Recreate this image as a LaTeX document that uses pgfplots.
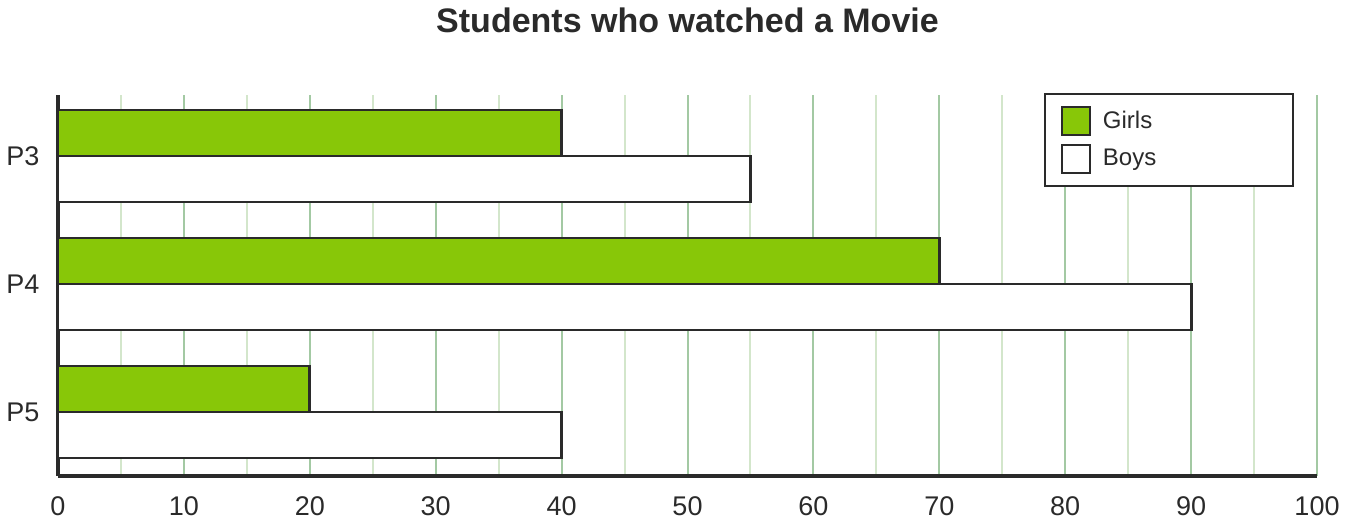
\documentclass[border=0pt]{standalone}
\usepackage{pgfplots}
\pgfplotsset{compat=1.18}
\usepackage{fontspec}
\setmainfont{Liberation Sans}

\definecolor{girls}{HTML}{88C708}
\definecolor{edge}{HTML}{2A2A2A}
\definecolor{majgrid}{HTML}{A3C9A3}
\definecolor{mingrid}{HTML}{D3E6CB}

\begin{document}
\begin{tikzpicture}
  % 1 px of the reference = 0.5pt
  \useasboundingbox (-29pt,-24.5pt) rectangle (645.5pt,238pt);
  \begin{axis}[
      at={(0,0)}, anchor=south west,
      scale only axis,
      width=629.5pt, height=190.5pt,
      xbar=0pt,
      bar width=23pt,
      y dir=reverse,
      xmin=0, xmax=100,
      ymin=-0.477, ymax=2.5,
      xtick={0,10,...,100},
      minor xtick={5,15,...,95},
      ytick={0,1,2},
      yticklabels={P3,P4,P5},
      tick style={draw=none},
      /pgf/number format/assume math mode=true,
      xticklabel style={font=\fontsize{13.5}{15}\selectfont, color=edge, yshift=-7pt},
      yticklabel style={font=\fontsize{13.5}{15}\selectfont, color=edge, xshift=-1.5pt},
      xmajorgrids, xminorgrids,
      major grid style={draw=majgrid, line width=1pt},
      minor grid style={draw=mingrid, line width=1pt},
      axis x line*=bottom, axis y line*=left,
      axis line style={draw=edge, line width=1.6pt, -},
      title={\bfseries Students who watched a Movie},
      title style={font=\fontsize{17}{20}\selectfont, color=edge, at={(0.5,1)}, yshift=21.5pt},
      legend style={
          at={(0.9817,1.005)}, anchor=north east,
          draw=edge, line width=1pt,
          font=\fontsize{12}{14}\selectfont, text=edge,
          inner xsep=8pt, inner ysep=6pt,
          row sep=4pt,
          nodes={text width=81pt, align=left, inner xsep=6pt},
          legend cell align=left,
      },
      legend image code/.code={
          \draw[#1, line width=1pt] (0pt,-7pt) rectangle (14pt,7pt);
      },
      every axis plot/.append style={draw=edge, line width=1.4pt},
      clip=false,
    ]
    \addplot[fill=girls, bar shift=11.5pt] coordinates {(40,0) (70,1) (20,2)};
    \addplot[fill=white, bar shift=-11.5pt] coordinates {(55,0) (90,1) (40,2)};
    \legend{Girls, Boys}
  \end{axis}
\end{tikzpicture}
\end{document}
